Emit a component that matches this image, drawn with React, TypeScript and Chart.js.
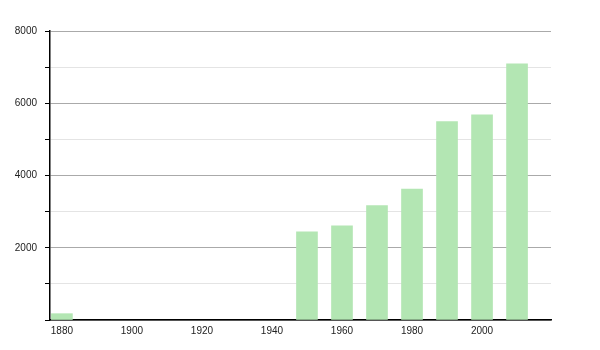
import React, { useEffect, useRef } from "react";
import { Chart, registerables } from "chart.js";

Chart.register(...registerables);

const years = [1880, 1950, 1960, 1970, 1980, 1990, 2000, 2010];
const population = [175, 2440, 2605, 3170, 3625, 5490, 5680, 7090];
const xTickValues = [1880, 1900, 1920, 1940, 1960, 1980, 2000];
const yLabelValues = [2000, 4000, 6000, 8000];

export default function App() {
  const ref = useRef<HTMLCanvasElement | null>(null);
  useEffect(() => {
    if (!ref.current) return;
    const chart = new Chart(ref.current, {
      type: "bar",
      data: {
        datasets: [
          {
            data: years.map((y, i) => ({ x: y, y: population[i] })),
            backgroundColor: "#b3e6b3",
            borderWidth: 0,
            barThickness: 21,
          },
        ],
      },
      options: {
        animation: false,
        responsive: false,
        maintainAspectRatio: false,
        layout: { padding: { left: 0, top: 31, right: 49, bottom: 0 } },
        plugins: { legend: { display: false }, tooltip: { enabled: false } },
        scales: {
          x: {
            type: "linear",
            offset: false,
            min: 1876.6,
            max: 2019.7,
            afterBuildTicks: (scale: any) => {
              scale.ticks = xTickValues.map((v) => ({ value: v }));
            },
            afterFit: (scale: any) => {
              scale.height = 30;
            },
            grid: { display: false, drawTicks: false, offset: false },
            border: { display: true, color: "#000", width: 1.5 },
            ticks: {
              autoSkip: false,
              maxRotation: 0,
              padding: 5,
              color: "#222",
              font: { family: "Liberation Sans, Arial, sans-serif", size: 10 },
              callback: (v: any) => String(v),
            },
          },
          y: {
            min: 0,
            max: 8000,
            afterFit: (scale: any) => {
              scale.width = 50;
            },
            grid: {
              color: (ctx: any) =>
                ctx.tick && ctx.tick.value % 2000 === 0 ? "#aaaaaa" : "#e4e4e4",
              tickColor: "#000",
              tickLength: 5,
              lineWidth: 1,
            },
            border: { display: true, color: "#000", width: 1.5 },
            ticks: {
              stepSize: 1000,
              padding: 8,
              color: "#222",
              font: { family: "Liberation Sans, Arial, sans-serif", size: 10 },
              callback: (v: any) =>
                yLabelValues.includes(Number(v)) ? String(v) : "",
            },
          },
        },
      },
    });
    return () => chart.destroy();
  }, []);
  return (
    <div style={{ position: "fixed", left: 0, top: 0, width: 600, height: 350, background: "#fff" }}>
      <canvas ref={ref} width={600} height={350} />
    </div>
  );
}
